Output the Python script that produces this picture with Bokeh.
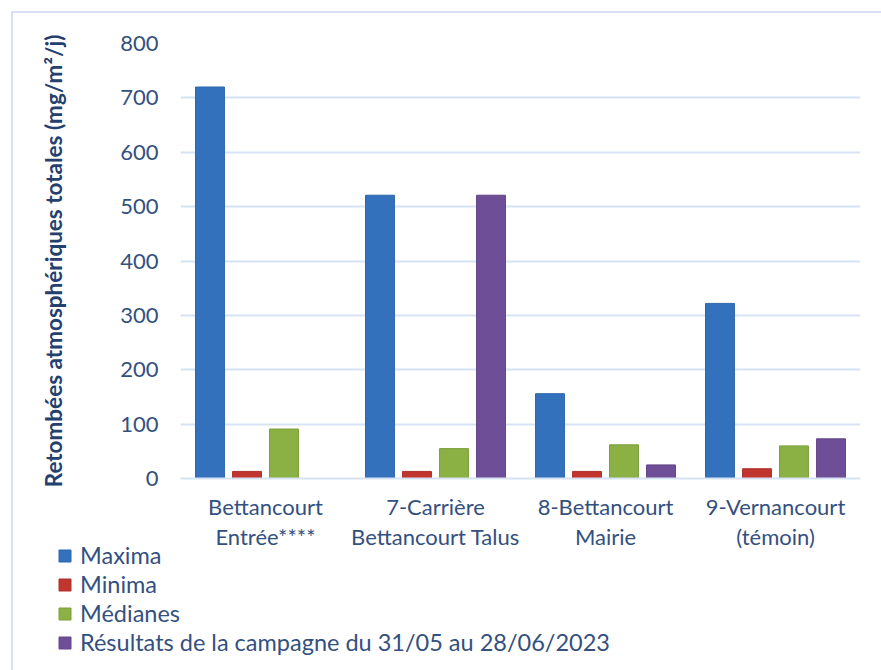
from bokeh.plotting import figure
from bokeh.models import (ColumnDataSource, FactorRange, FixedTicker, Legend, LegendItem,
                          InlineStyleSheet)
from bokeh.layouts import column
from bokeh.transform import dodge
from bokeh.embed import file_html
from bokeh.resources import INLINE

# ---- data ----
sites = ["Bettancourt\nEntrée****", "7-Carrière\nBettancourt Talus",
         "8-Bettancourt\nMairie", "9-Vernancourt\n(témoin)"]
maxima = [720, 521, 156, 322]
minima = [13, 13, 13, 18]
medianes = [91, 55, 62, 60]
campagne = [float("nan"), 521, 25, 73]
series_names = ["Maxima", "Minima", "Médianes",
                "Résultats de la campagne du 31/05 au 28/06/2023"]
yticks = [0, 100, 200, 300, 400, 500, 600, 700, 800]

colors = ["#3471BD", "#C1352F", "#8BB043", "#6E4E96"]
line_colors = ["#2F66AA", "#AF302B", "#7E9F3C", "#634687"]

FONT = "Lato"
TXT = "#34507F"
grid_col = "#D7E3F4"

source = ColumnDataSource(dict(site=sites, maxima=maxima, minima=minima,
                               medianes=medianes, campagne=campagne))

H1 = 560
OVERLAP = 25

p = figure(width=881, height=H1, x_range=FactorRange(*sites, range_padding=0),
           y_range=(0, 800), output_backend="svg", toolbar_location=None,
           min_border_left=180, min_border_right=21, min_border_top=43,
           min_border_bottom=H1 - 478, frame_align=False)

fields = ["maxima", "minima", "medianes", "campagne"]
offsets = [-0.3265, -0.1088, 0.1088, 0.3265]
for f, off, c, lc in zip(fields, offsets, colors, line_colors):
    p.vbar(x=dodge("site", off, range=p.x_range), top=f, bottom=0, width=0.17,
           source=source, fill_color=c, line_color=lc, line_width=1)

# axes / grid
p.outline_line_color = None
p.xgrid.grid_line_color = None
p.ygrid.grid_line_color = grid_col
p.ygrid.grid_line_width = 2
p.yaxis.ticker = FixedTicker(ticks=yticks)
p.yaxis.axis_line_color = None
p.yaxis.major_tick_line_color = None
p.yaxis.minor_tick_line_color = None
p.yaxis.major_tick_out = 0
p.yaxis.major_label_standoff = 22
p.yaxis.major_label_text_font = FONT
p.yaxis.major_label_text_font_size = "22px"
p.yaxis.major_label_text_color = TXT
p.yaxis.axis_label = "Retombées atmosphériques totales (mg/m²/j)"
p.yaxis.axis_label_text_font = FONT
p.yaxis.axis_label_text_font_style = "bold"
p.yaxis.axis_label_text_font_size = "22.5px"
p.yaxis.axis_label_text_color = "#24406E"
p.yaxis.axis_label_standoff = 50

p.xaxis.axis_line_color = grid_col
p.xaxis.axis_line_width = 2
p.xaxis.major_tick_line_color = None
p.xaxis.minor_tick_line_color = None
p.xaxis.major_tick_out = 0
p.xaxis.major_label_standoff = 14
p.xaxis.major_label_text_font = FONT
p.xaxis.major_label_text_font_size = "22px"
p.xaxis.major_label_text_color = TXT
p.xaxis.major_label_text_line_height = 1.12

# legend figure (swatches only; the proxy glyphs hold a single NaN, so draw nothing)
lf = figure(width=881, height=670 - H1 + OVERLAP, x_range=(0, 1), y_range=(0, 1),
            output_backend="svg", toolbar_location=None,
            x_axis_type=None, y_axis_type=None, min_border=0, frame_align=False,
            styles={"margin-top": "-%dpx" % OVERLAP})
lf.outline_line_color = None
lf.background_fill_alpha = 0
lf.border_fill_alpha = 0
lf.xgrid.visible = False
lf.ygrid.visible = False
items = []
nan = float("nan")
for n, c, lc in zip(series_names, colors, line_colors):
    r = lf.vbar(x=[nan], top=[nan], width=0.1, fill_color=c, line_color=lc)
    items.append(LegendItem(label=n, renderers=[r]))
legend = Legend(items=items, location=(57, 14), orientation="vertical",
                label_text_font=FONT, label_text_font_size="23.5px", label_text_color=TXT,
                glyph_width=15, glyph_height=15, label_standoff=8, spacing=1,
                label_height=24, padding=0, margin=0,
                border_line_color=None, background_fill_alpha=0)
lf.add_layout(legend, "center")

border_css = InlineStyleSheet(css="""
:host { position: relative; }
:host::after {
  content: "";
  position: absolute;
  left: 11px; top: 11px; right: 0px; bottom: 0px;
  border-top: 2px solid %s;
  border-left: 2px solid %s;
  pointer-events: none;
}
""" % (grid_col, grid_col))

layout = column(p, lf, spacing=0, stylesheets=[border_css])

open("out.html", "w").write(file_html(layout, INLINE))
